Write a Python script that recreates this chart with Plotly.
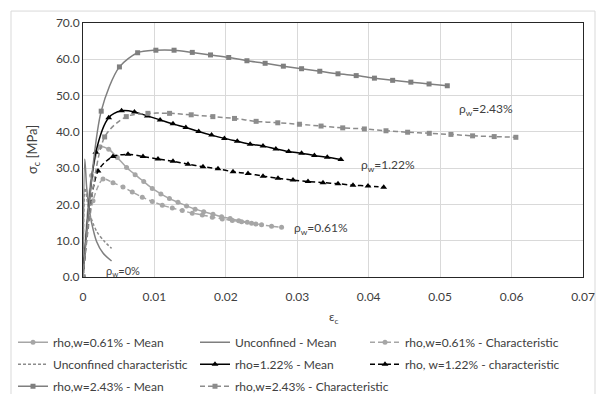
import plotly.graph_objects as go

# ---- data ----
x_061_mean = [0, 0.0012, 0.0024, 0.0036, 0.0048, 0.0061, 0.0073, 0.0085, 0.0097, 0.0109, 0.0121,
              0.0133, 0.0145, 0.0157, 0.0169, 0.0182, 0.0194, 0.0206, 0.0218, 0.0230, 0.0242]
y_061_mean = [0, 28.0, 35.9, 35.2, 32.9, 30.2, 28.2, 26.3, 24.4, 22.9, 21.6,
              20.6, 19.6, 18.7, 18.0, 17.3, 16.6, 16.1, 15.5, 15.1, 14.6]

x_061_char = [0, 0.0014, 0.0028, 0.0042, 0.0056, 0.0069, 0.0083, 0.0097, 0.0111, 0.0125, 0.0139,
              0.0153, 0.0167, 0.0181, 0.0195, 0.0209, 0.0222, 0.0236, 0.0250, 0.0264, 0.0278]
y_061_char = [0, 21.0, 27.0, 26.0, 24.8, 23.4, 22.0, 20.8, 19.8, 19.0, 18.3,
              17.6, 17.1, 16.5, 16.0, 15.6, 15.2, 14.8, 14.4, 14.0, 13.7]

x_unc_mean = [0, 0.00025, 0.0005, 0.0008, 0.0012, 0.0019, 0.0028, 0.0040]
y_unc_mean = [0, 32.5, 25.0, 19.5, 15.0, 9.8, 6.6, 4.4]

x_unc_char = [0, 0.0003, 0.0008, 0.0014, 0.0020, 0.0030, 0.0040]
y_unc_char = [0, 24.5, 18.5, 14.8, 12.3, 9.8, 7.9]

x_122_mean = [0, 0.0018, 0.0036, 0.0054, 0.0072, 0.0090, 0.0108, 0.0126, 0.0144, 0.0162, 0.0180,
              0.0198, 0.0216, 0.0234, 0.0252, 0.0270, 0.0288, 0.0306, 0.0324, 0.0342, 0.0361]
y_122_mean = [0, 34.4, 43.9, 45.8, 45.5, 44.4, 43.3, 42.2, 41.2, 40.1, 39.1,
              38.2, 37.4, 36.6, 36.1, 35.3, 34.6, 34.1, 33.5, 33.0, 32.4]

x_122_char = [0, 0.0021, 0.0042, 0.0063, 0.0084, 0.0105, 0.0126, 0.0147, 0.0168, 0.0189, 0.0210,
              0.0231, 0.0252, 0.0273, 0.0294, 0.0315, 0.0336, 0.0357, 0.0378, 0.0399, 0.0421]
y_122_char = [0, 29.2, 33.2, 33.8, 33.2, 32.5, 31.9, 31.1, 30.4, 29.8, 29.0,
              28.5, 27.8, 27.2, 26.7, 26.3, 26.0, 25.7, 25.3, 25.1, 24.7]

x_243_mean = [0, 0.00255, 0.0051, 0.00765, 0.0102, 0.01275, 0.0153, 0.01785, 0.0204, 0.02295, 0.0255,
              0.02805, 0.0306, 0.03315, 0.0357, 0.03825, 0.0408, 0.04335, 0.0459, 0.04845, 0.0510]
y_243_mean = [0, 45.7, 57.9, 61.8, 62.5, 62.5, 61.9, 61.2, 60.5, 59.6, 58.9,
              58.1, 57.4, 56.7, 56.0, 55.5, 54.8, 54.2, 53.7, 53.2, 52.7]

x_243_char = [0, 0.00303, 0.00606, 0.00909, 0.01212, 0.01515, 0.01818, 0.02121, 0.02424, 0.02727, 0.0303,
              0.03333, 0.03636, 0.03939, 0.04242, 0.04545, 0.04848, 0.05151, 0.05454, 0.05757, 0.0606]
y_243_char = [0, 38.6, 44.2, 45.1, 45.1, 44.7, 44.2, 43.7, 42.9, 42.5, 42.1,
              41.6, 41.1, 40.8, 40.3, 39.9, 39.6, 39.3, 38.9, 38.7, 38.5]

x_ticks = [0, 0.01, 0.02, 0.03, 0.04, 0.05, 0.06, 0.07]
x_tick_labels = ["0", "0.01", "0.02", "0.03", "0.04", "0.05", "0.06", "0.07"]
y_ticks = [0, 10, 20, 30, 40, 50, 60, 70]
y_tick_labels = ["0.0", "10.0", "20.0", "30.0", "40.0", "50.0", "60.0", "70.0"]

FONT = "Lato"
DASH = "5px,3px"

fig = go.Figure()

def add(x, y, name, color, legend, dash="solid", symbol=None, msize=5):
    mode = "lines+markers" if symbol else "lines"
    fig.add_trace(go.Scatter(
        x=x, y=y, name=name, mode=mode, legend=legend, legendgroup=name,
        line=dict(color=color, width=1.5, dash=dash, shape="spline", smoothing=0.8),
        marker=dict(symbol=symbol or "circle", size=msize, color=color),
    ))

# legend = column 1, legend2 = column 2, legend3 = column 3
add(x_061_mean, y_061_mean, "rho,w=0.61% - Mean", "#a6a6a6", "legend", "solid", "circle", 5)
add(x_unc_mean, y_unc_mean, "Unconfined - Mean", "#7f7f7f", "legend2", "solid")
add(x_061_char, y_061_char, "rho,w=0.61% - Characteristic", "#a6a6a6", "legend3", DASH, "circle", 5)
add(x_unc_char, y_unc_char, "Unconfined characteristic", "#8c8c8c", "legend", "3px,2px")
add(x_122_mean, y_122_mean, "rho=1.22% - Mean", "#000000", "legend2", "solid", "triangle-up", 6)
add(x_122_char, y_122_char, "rho, w=1.22% - characteristic", "#000000", "legend3", DASH, "triangle-up", 6)
add(x_243_mean, y_243_mean, "rho,w=2.43% - Mean", "#7f7f7f", "legend", "solid", "square", 5)
add(x_243_char, y_243_char, "rho,w=2.43% - Characteristic", "#8c8c8c", "legend2", DASH, "square", 5)

annots = [
    (0.0524, 46.3, "ρ<sub>w</sub>=2.43%", 12),
    (0.0386, 30.6, "ρ<sub>w</sub>=1.22%", 12),
    (0.0293, 13.5, "ρ<sub>w</sub>=0.61%", 12),
    (0.0030, 1.6, "ρ<sub>w</sub>=0%", 11),
]
for ax, ay, txt, fs in annots:
    fig.add_annotation(x=ax, y=ay, text=txt, showarrow=False, xanchor="left", yanchor="middle",
                       font=dict(family=FONT, size=fs, color="#404040"))

# axis titles
fig.add_annotation(x=0.5, y=-0.161, xref="paper", yref="paper", text="ε<sub>c</sub>",
                   showarrow=False, xanchor="center", yanchor="middle",
                   font=dict(family=FONT, size=12, color="#404040"))
fig.add_annotation(x=-0.1, y=0.5, xref="paper", yref="paper", text="σ<sub>c</sub> [MPa]",
                   showarrow=False, xanchor="center", yanchor="middle", textangle=-90,
                   font=dict(family=FONT, size=13, color="#404040"))

# outer chart border (top and left parts visible)
fig.add_shape(type="rect", xref="paper", yref="paper", x0=-0.144, x1=1.024, y0=-0.47, y1=1.047,
              line=dict(color="#d9d9d9", width=1), layer="below")

def leg(x):
    return dict(orientation="v", x=x, xanchor="left", y=-0.2, yanchor="top",
                font=dict(family=FONT, size=12, color="#404040"),
                tracegroupgap=3, itemwidth=30, bgcolor="rgba(0,0,0,0)")

fig.update_layout(
    width=596, height=394,
    margin=dict(l=83, r=13, t=23, b=117, autoexpand=False),
    paper_bgcolor="white", plot_bgcolor="white",
    font=dict(family=FONT, size=12, color="#404040"),
    showlegend=True,
    legend=leg(-0.14),
    legend2=leg(0.224),
    legend3=leg(0.564),
    xaxis=dict(range=[0, 0.07], tickvals=x_ticks, ticktext=x_tick_labels,
               showgrid=True, gridcolor="#d9d9d9", gridwidth=1, zeroline=False,
               showline=True, linecolor="#262626", linewidth=1, mirror=True, ticks="",
               ticklabelstandoff=9,
               tickfont=dict(family=FONT, size=12, color="#404040")),
    yaxis=dict(range=[0, 70], tickvals=y_ticks, ticktext=y_tick_labels,
               showgrid=True, gridcolor="#d9d9d9", gridwidth=1, zeroline=False,
               showline=True, linecolor="#262626", linewidth=1, mirror=True, ticks="",
               tickfont=dict(family=FONT, size=12, color="#404040")),
)

fig.write_html("out.html", config={"displayModeBar": False},
               post_script="document.body.style.margin='0';")
